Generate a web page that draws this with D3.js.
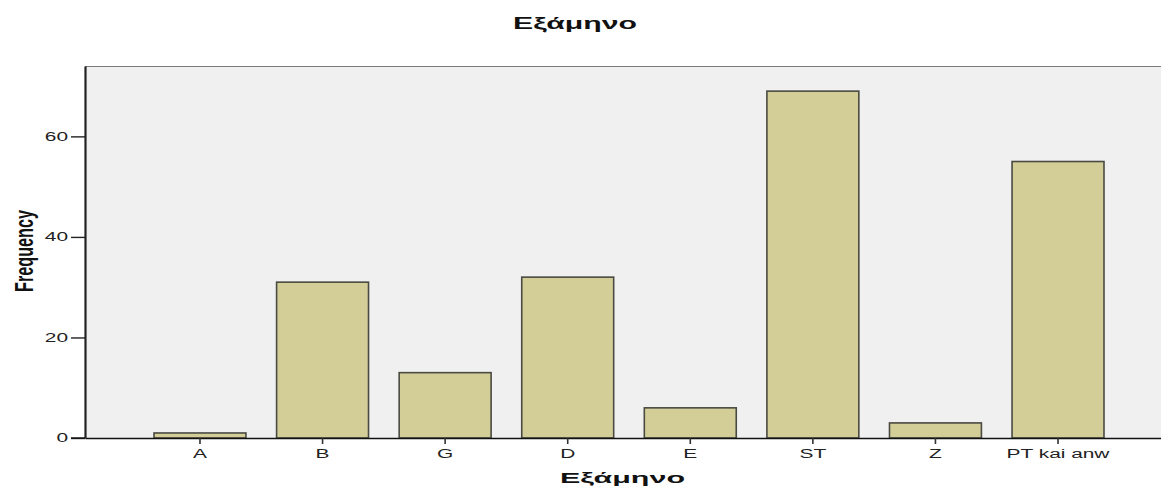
<!DOCTYPE html>
<html>
<head>
<meta charset="utf-8">
<script src="https://cdn.jsdelivr.net/npm/d3@7/dist/d3.min.js"></script>
<style>
  html, body { margin: 0; padding: 0; background: #ffffff; }
  svg { display: block; }
  text { font-family: "Liberation Sans", Arial, sans-serif; }
</style>
</head>
<body>
<svg id="chart" width="1161" height="488"></svg>
<script>
// ---- data ----
const categories = ["A", "B", "G", "D", "E", "ST", "Z", "PT kai anw"];
const frequency = [1, 31, 13, 32, 6, 69, 3, 55];
const yTicks = [0, 20, 40, 60];
const chartTitle = "Εξάμηνο";
const xTitle = "Εξάμηνο";
const yTitle = "Frequency";

// ---- layout ----
const W = 1161, H = 488;
const plot = { left: 85, right: 1173, top: 66, bottom: 438 };
const stretch = 1.74;

const svg = d3.select("#chart");

const x = d3.scaleBand()
  .domain(categories)
  .range([plot.left, plot.right])
  .paddingInner(0.25)
  .paddingOuter(0.563);

const y = d3.scaleLinear()
  .domain([0, 74])
  .range([plot.bottom, plot.top]);

// plot background
svg.append("rect")
  .attr("x", plot.left).attr("y", plot.top)
  .attr("width", plot.right - plot.left)
  .attr("height", plot.bottom - plot.top)
  .attr("fill", "#f0f0f0");

// top border
svg.append("line")
  .attr("x1", plot.left).attr("x2", plot.right)
  .attr("y1", plot.top + 0.5).attr("y2", plot.top + 0.5)
  .attr("stroke", "#7a7a7a").attr("stroke-width", 1.2);

// bars
svg.append("g").selectAll("rect")
  .data(categories.map((c, i) => ({ c, v: frequency[i] })))
  .join("rect")
  .attr("x", d => x(d.c))
  .attr("y", d => y(d.v))
  .attr("width", x.bandwidth())
  .attr("height", d => y(0) - y(d.v))
  .attr("fill", "#d3ce98")
  .attr("stroke", "#4a4a42")
  .attr("stroke-width", 1.6);

// y axis
const yAxis = svg.append("g")
  .attr("transform", `translate(${plot.left},0)`)
  .call(d3.axisLeft(y).tickValues(yTicks).tickSize(14).tickSizeOuter(0).tickPadding(3).tickFormat(d3.format("d")));
yAxis.select(".domain").attr("stroke", "#222").attr("stroke-width", 2.2);
yAxis.selectAll(".tick line").attr("stroke", "#222").attr("stroke-width", 1.4);
yAxis.selectAll(".tick text")
  .attr("font-size", 12)
  .attr("fill", "#222")
  .attr("x", -17 / stretch)
  .attr("transform", `scale(${stretch},1)`);

// x axis
const xAxis = svg.append("g")
  .attr("transform", `translate(0,${plot.bottom})`)
  .call(d3.axisBottom(x).tickSize(6).tickPadding(5).tickSizeOuter(0));
xAxis.select(".domain").attr("stroke", "#111").attr("stroke-width", 1.6);
xAxis.selectAll(".tick line").attr("stroke", "#333").attr("stroke-width", 1.6);
xAxis.selectAll(".tick text")
  .attr("font-size", 12)
  .attr("fill", "#222")
  .attr("transform", `scale(${stretch},1)`);

// extend bottom axis line to the left tick
svg.append("line")
  .attr("x1", plot.left - 14).attr("x2", plot.left)
  .attr("y1", plot.bottom).attr("y2", plot.bottom)
  .attr("stroke", "#111").attr("stroke-width", 1.4);

// chart title
svg.append("text")
  .attr("x", 513).attr("y", 29)
  .attr("font-size", 17).attr("font-weight", "bold")
  .attr("fill", "#111")
  .attr("textLength", 124).attr("lengthAdjust", "spacingAndGlyphs")
  .text(chartTitle);

// x title
svg.append("text")
  .attr("x", 560).attr("y", 483)
  .attr("font-size", 15.5).attr("font-weight", "bold")
  .attr("fill", "#111")
  .attr("textLength", 125).attr("lengthAdjust", "spacingAndGlyphs")
  .text(xTitle);

// y title (rotated, glyphs widened)
svg.append("text")
  .attr("transform", `translate(33,292) scale(1.75,1) rotate(-90)`)
  .attr("x", 0).attr("y", 0)
  .attr("font-size", 15).attr("font-weight", "bold")
  .attr("fill", "#111")
  .attr("textLength", 82).attr("lengthAdjust", "spacingAndGlyphs")
  .text(yTitle);
</script>
</body>
</html>
